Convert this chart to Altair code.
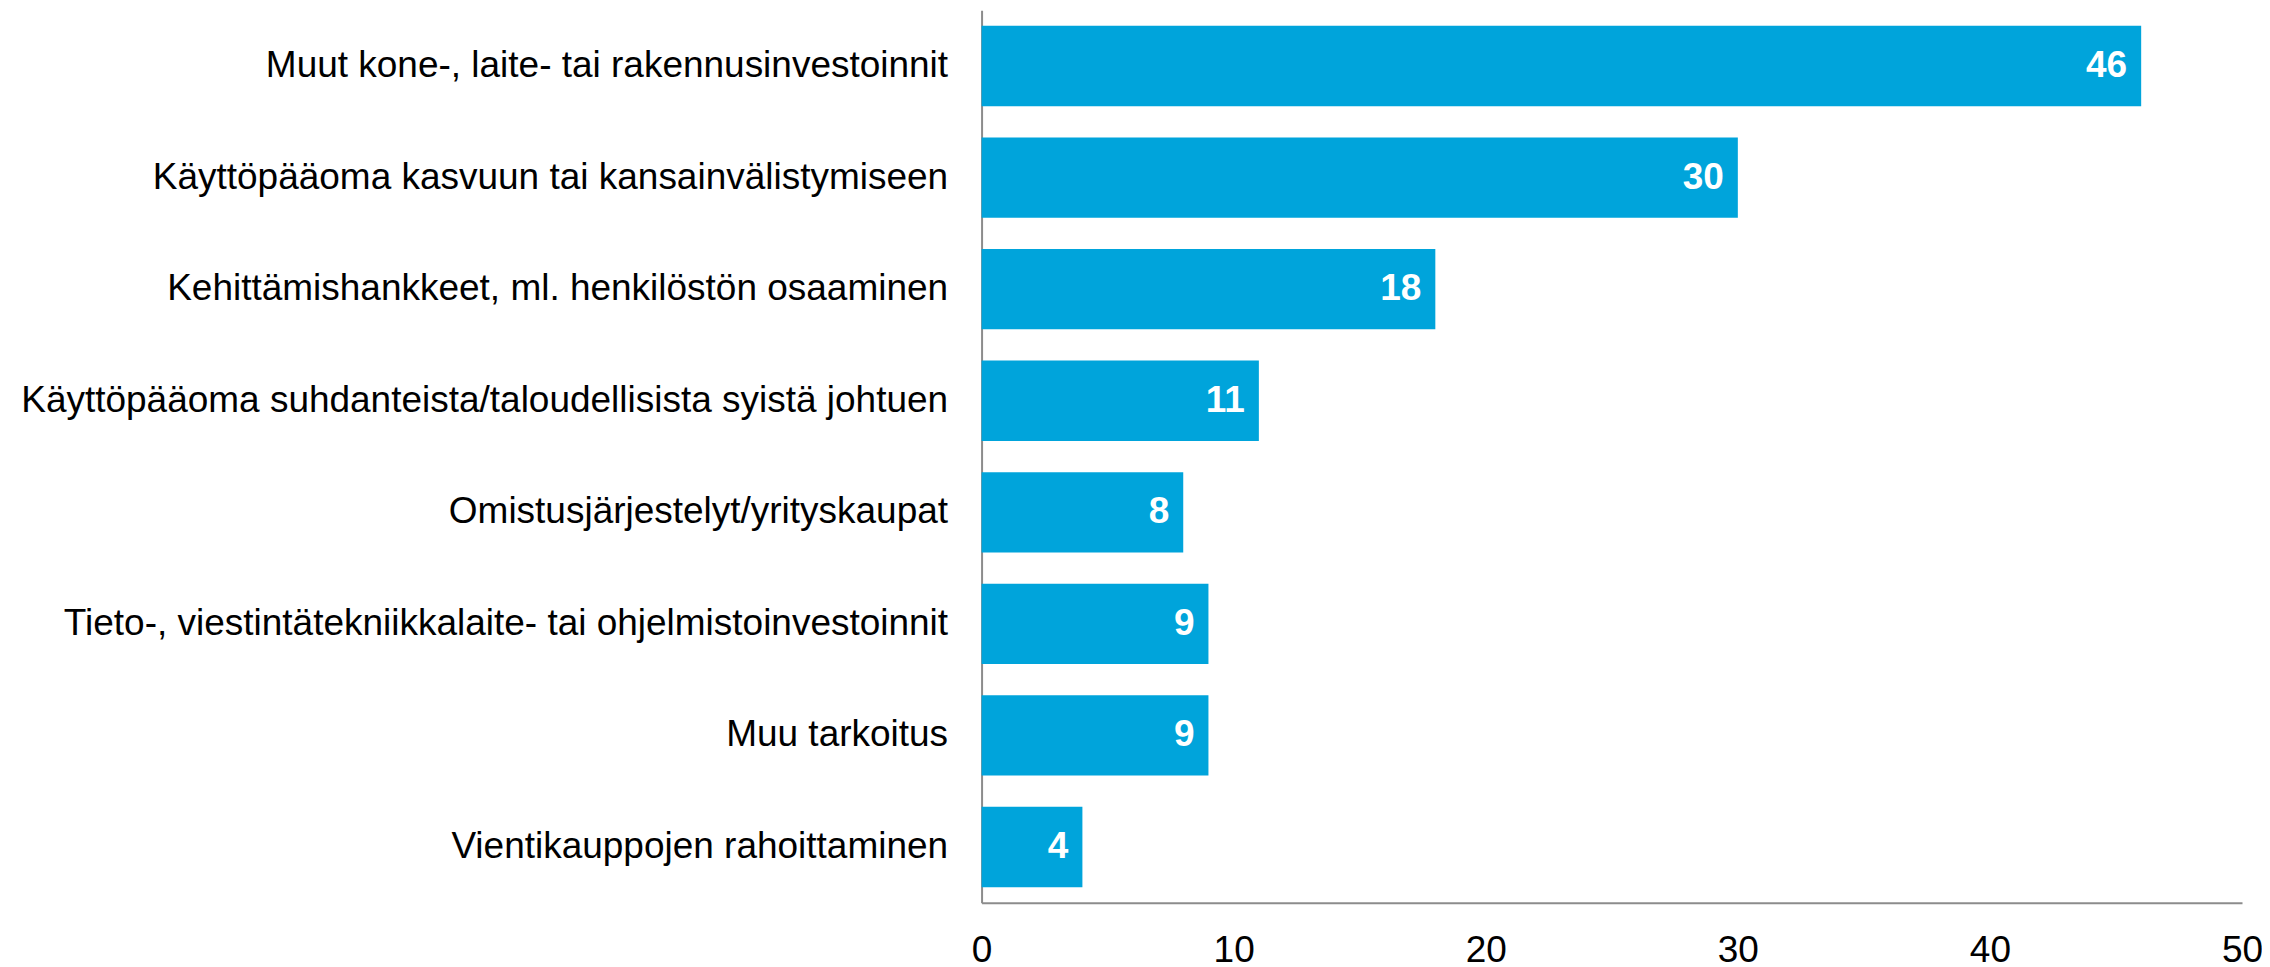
import altair as alt
import pandas as pd

categories = [
    "Muut kone-, laite- tai rakennusinvestoinnit",
    "Käyttöpääoma kasvuun tai kansainvälistymiseen",
    "Kehittämishankkeet, ml. henkilöstön osaaminen",
    "Käyttöpääoma suhdanteista/taloudellisista syistä johtuen",
    "Omistusjärjestelyt/yrityskaupat\u00a0",
    "Tieto-, viestintätekniikkalaite- tai ohjelmistoinvestoinnit",
    "Muu tarkoitus",
    "Vientikauppojen rahoittaminen",
]
values = [46, 30, 18, 11, 8, 9, 9, 4]
x_ticks = [0, 10, 20, 30, 40, 50]

df = pd.DataFrame({"category": categories, "value": values})

FONT = "Liberation Sans"
BAR = "#00A4DB"
AXIS_GRAY = "#8C8C8C"

y_enc = alt.Y(
    "category:N",
    sort=categories,
    scale=alt.Scale(paddingInner=0.28, paddingOuter=0.14),
    axis=alt.Axis(
        title=None,
        ticks=False,
        tickSize=0,
        labelPadding=34,
        labelFontSize=37,
        labelFont=FONT,
        labelColor="#000000",
        labelLimit=0,
        domainColor=AXIS_GRAY,
        domainWidth=2,
        grid=False,
    ),
)

x_enc = alt.X(
    "value:Q",
    scale=alt.Scale(domain=[0, 50], nice=False, zero=True),
    axis=alt.Axis(
        title=None,
        values=x_ticks,
        ticks=False,
        tickSize=0,
        labelPadding=30,
        labelFontSize=37,
        labelFont=FONT,
        labelColor="#000000",
        labelFlush=False,
        domainColor=AXIS_GRAY,
        domainWidth=2,
        grid=False,
    ),
)

bars = alt.Chart(df).mark_bar(color=BAR).encode(x=x_enc, y=y_enc)

labels = alt.Chart(df).mark_text(
    align="right",
    baseline="middle",
    dx=-14,
    color="white",
    fontWeight="bold",
    fontSize=37,
    font=FONT,
).encode(
    x=alt.X("value:Q"),
    y=alt.Y("category:N", sort=categories),
    text=alt.Text("value:Q"),
)

chart = (
    alt.layer(bars, labels)
    .properties(
        width=1261,
        height=893,
        background="white",
        autosize=alt.AutoSizeParams(type="none"),
        padding={"left": 974, "top": 2, "right": 20, "bottom": 66},
    )
    .configure_view(strokeWidth=0, stroke="transparent")
)

chart.save("out.html", embed_options={"renderer": "svg", "actions": False})
